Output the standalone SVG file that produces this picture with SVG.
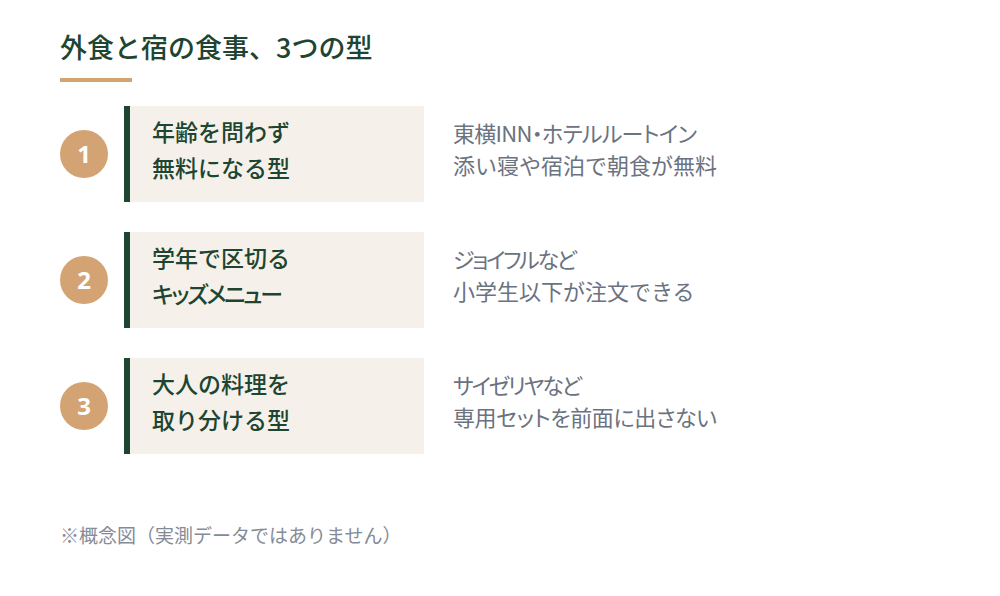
<svg xmlns="http://www.w3.org/2000/svg" width="1000" height="596" viewBox="0 0 1000 596">
<style>
.t{font-family:"Noto Sans CJK JP","Noto Sans",sans-serif}
.p{font-feature-settings:"palt" 1}
.title{font-size:27px;font-weight:500;fill:#1D4531}
.card{fill:#F5F1EA}
.bar{fill:#1D4531}
.circ{fill:#D4A373}
.num{font-size:24px;font-weight:700;fill:#ffffff;font-family:"Noto Sans","Noto Sans CJK JP",sans-serif}
.lbl{font-size:23px;font-weight:500;fill:#1D4531}
.desc{font-size:22px;fill:#6B7280}
.foot{font-size:19px;fill:#858B96}
</style>
<rect width="1000" height="596" fill="#ffffff"/>
<text class="t title" x="60" y="58">外食と宿の食事、3つの型</text>
<rect x="60" y="78" width="72" height="4" fill="#D4A373"/>
<g id="connectors"></g>
<g id="node1">
<circle class="circ" cx="84" cy="154" r="24"/>
<text class="num" x="84" y="162.5" text-anchor="middle">1</text>
<rect class="card" x="130" y="106" width="294" height="96"/>
<rect class="bar" x="124" y="106" width="6" height="96"/>
<text class="t lbl" x="152" y="141">年齢を問わず</text>
<text class="t lbl" x="152" y="177">無料になる型</text>
<text class="t desc p" x="453" y="142" textLength="244" lengthAdjust="spacing">東横INN・ホテルルートイン</text>
<text class="t desc" x="453" y="174">添い寝や宿泊で朝食が無料</text>
</g>
<g id="node2">
<circle class="circ" cx="84" cy="280" r="24"/>
<text class="num" x="84" y="288.5" text-anchor="middle">2</text>
<rect class="card" x="130" y="232" width="294" height="96"/>
<rect class="bar" x="124" y="232" width="6" height="96"/>
<text class="t lbl" x="152" y="267">学年で区切る</text>
<text class="t lbl p" x="152" y="303" textLength="131" lengthAdjust="spacing">キッズメニュー</text>
<text class="t desc p" x="453" y="268" textLength="124" lengthAdjust="spacing">ジョイフルなど</text>
<text class="t desc" x="453" y="300">小学生以下が注文できる</text>
</g>
<g id="node3">
<circle class="circ" cx="84" cy="406" r="24"/>
<text class="num" x="84" y="414.5" text-anchor="middle">3</text>
<rect class="card" x="130" y="358" width="294" height="96"/>
<rect class="bar" x="124" y="358" width="6" height="96"/>
<text class="t lbl" x="152" y="393">大人の料理を</text>
<text class="t lbl" x="152" y="429">取り分ける型</text>
<text class="t desc p" x="453" y="394" textLength="129" lengthAdjust="spacing">サイゼリヤなど</text>
<text class="t desc p" x="453" y="426" textLength="264" lengthAdjust="spacing">専用セットを前面に出さない</text>
</g>
<text class="t foot" x="60" y="543">※概念図（実測データではありません）</text>
</svg>
